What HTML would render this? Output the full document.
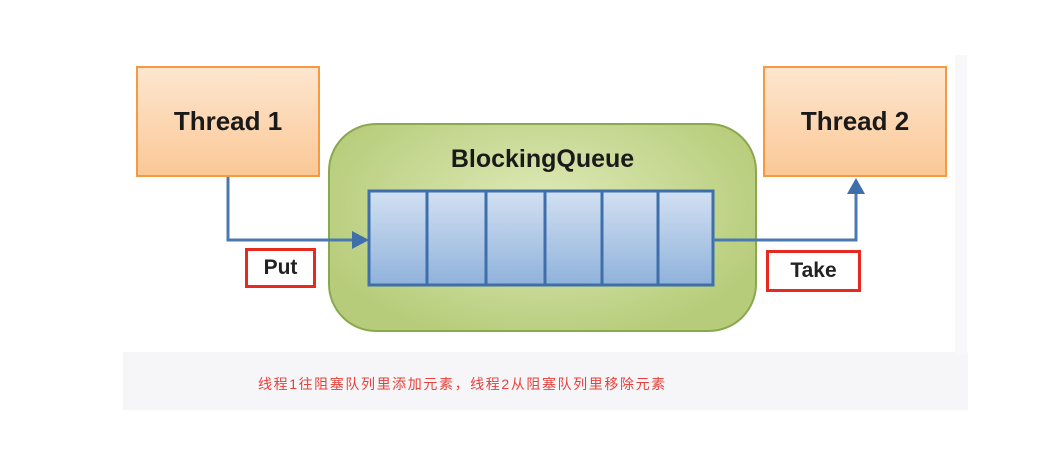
<!DOCTYPE html>
<html><head><meta charset="utf-8"><style>
body{margin:0;width:1037px;height:465px;background:#fff;position:relative;overflow:hidden;font-family:"Liberation Sans",Arial,sans-serif}
.a{position:absolute;box-sizing:border-box}
.th{background:linear-gradient(#fde6cf,#fbc896);border:2px solid #f39a43;font-weight:bold;font-size:26px;color:#1a1a1a;display:flex;align-items:center;justify-content:center}
.rb{border:3px solid #e62a1f;background:#fff;font-size:21px;font-weight:bold;color:#222;display:flex;align-items:center;justify-content:center}
</style></head><body>
<div class="a" style="left:123px;top:352px;width:845px;height:58px;background:#f6f6f9"></div>
<div class="a" style="left:955px;top:55px;width:12px;height:300px;background:#f8f8fa"></div>
<div class="a th" style="left:136px;top:66px;width:184px;height:111px">Thread 1</div>
<div class="a th" style="left:763px;top:66px;width:184px;height:111px">Thread 2</div>
<div class="a" style="left:328px;top:123px;width:429px;height:209px;border-radius:48px;border:2px solid #8aa84e;background:radial-gradient(ellipse at 50% 40%,#dfeab8,#b6cc7a 80%)"></div>
<div class="a" style="left:328px;top:145px;width:429px;text-align:center;font-weight:bold;font-size:25px;color:#1a1a1a">BlockingQueue</div>
<svg class="a" style="left:0;top:0" width="1037" height="465">
<defs><linearGradient id="g" x1="0" y1="0" x2="0" y2="1"><stop offset="0" stop-color="#d2e0f2"/><stop offset="1" stop-color="#90b2db"/></linearGradient></defs>
<rect x="369" y="191" width="344" height="94" fill="url(#g)" stroke="#3f6fab" stroke-width="3"/>
<g stroke="#3f6fab" stroke-width="3"><line x1="427" y1="191" x2="427" y2="285"/><line x1="486" y1="191" x2="486" y2="285"/><line x1="545" y1="191" x2="545" y2="285"/><line x1="602" y1="191" x2="602" y2="285"/><line x1="658" y1="191" x2="658" y2="285"/></g>
<polyline points="228,177 228,240 356,240" fill="none" stroke="#4a78b0" stroke-width="3"/>
<polygon points="369,240 352,231 352,249" fill="#3f6fab"/>
<polyline points="713,240 856,240 856,192" fill="none" stroke="#4a78b0" stroke-width="3"/>
<polygon points="856,178 847,194 865,194" fill="#3f6fab"/>
</svg>
<div class="a rb" style="left:245px;top:248px;width:71px;height:40px">Put</div>
<div class="a rb" style="left:766px;top:250px;width:95px;height:42px">Take</div>
<div class="a" style="left:258px;top:374px;font-size:14px;letter-spacing:1.6px;color:#e8403a;font-family:'Liberation Sans','Noto Sans CJK SC',sans-serif;white-space:nowrap">线程1往阻塞队列里添加元素，线程2从阻塞队列里移除元素</div>
</body></html>
